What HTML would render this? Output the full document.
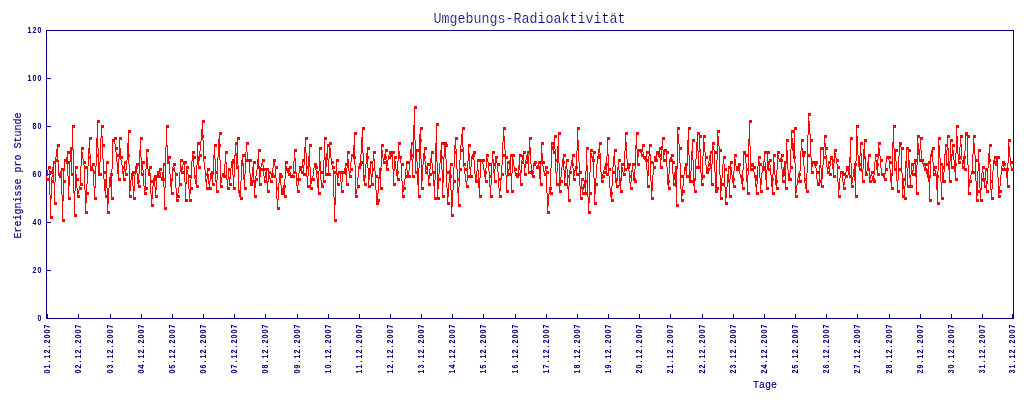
<!DOCTYPE html>
<html lang="de"><head><meta charset="utf-8">
<title>Umgebungs-Radioaktivität</title>
<style>
html,body{margin:0;padding:0;background:#fff;}
body{width:1024px;height:400px;overflow:hidden;position:relative;}
svg{position:absolute;left:0;top:0;display:block;}
text{fill:#000080;}
.t{font-family:"Liberation Mono","DejaVu Sans Mono",monospace;font-size:13.33px;stroke:#ffffff;stroke-width:0.175px;}
.s{font-family:"Liberation Mono","DejaVu Sans Mono",monospace;font-size:10px;stroke:#000080;stroke-width:0.15px;}
.n{font-family:"Liberation Sans","DejaVu Sans",sans-serif;font-size:8.8px;font-weight:bold;text-anchor:middle;stroke:#000080;stroke-width:0.05px;}
</style></head><body>
<svg width="1024" height="400" viewBox="0 0 1024 400">
<rect x="0" y="0" width="1024" height="400" fill="#ffffff"/>
<path shape-rendering="crispEdges" fill="#000080" d="M46 30h968v1h-968zM46 318h968v1h-968zM46 30h1v289h-1zM1013 30h1v289h-1zM46 318h5v1h-5zM46 270h5v1h-5zM46 222h5v1h-5zM46 174h5v1h-5zM46 126h5v1h-5zM46 78h5v1h-5zM46 30h5v1h-5zM47 314h1v5h-1zM78 314h1v5h-1zM110 314h1v5h-1zM141 314h1v5h-1zM172 314h1v5h-1zM203 314h1v5h-1zM234 314h1v5h-1zM265 314h1v5h-1zM297 314h1v5h-1zM328 314h1v5h-1zM359 314h1v5h-1zM390 314h1v5h-1zM421 314h1v5h-1zM452 314h1v5h-1zM483 314h1v5h-1zM515 314h1v5h-1zM546 314h1v5h-1zM577 314h1v5h-1zM608 314h1v5h-1zM639 314h1v5h-1zM670 314h1v5h-1zM702 314h1v5h-1zM733 314h1v5h-1zM764 314h1v5h-1zM795 314h1v5h-1zM826 314h1v5h-1zM857 314h1v5h-1zM889 314h1v5h-1zM920 314h1v5h-1zM951 314h1v5h-1zM982 314h1v5h-1zM1012 314h1v5h-1z"/>
<path shape-rendering="crispEdges" fill="#ff0000" d="M46 176h1v5h-1zM47 170h1v6h-1zM47 178h1v3h-1zM48 166h1v4h-1zM48 178h1v3h-1zM49 166h1v3h-1zM49 170h1v25h-1zM50 166h1v3h-1zM50 171h1v3h-1zM50 195h1v24h-1zM51 171h1v3h-1zM51 177h1v22h-1zM51 216h1v3h-1zM52 167h1v10h-1zM52 180h1v3h-1zM52 216h1v3h-1zM53 161h1v22h-1zM54 161h1v3h-1zM54 182h1v23h-1zM55 157h1v25h-1zM55 202h1v3h-1zM56 149h1v8h-1zM56 159h1v3h-1zM56 202h1v3h-1zM57 144h1v18h-1zM58 144h1v3h-1zM58 160h1v16h-1zM59 144h1v3h-1zM59 173h1v5h-1zM60 171h1v7h-1zM61 168h1v27h-1zM62 168h1v3h-1zM62 195h1v27h-1zM63 168h1v33h-1zM63 219h1v3h-1zM64 159h1v12h-1zM64 180h1v3h-1zM64 219h1v3h-1zM65 159h1v3h-1zM65 180h1v3h-1zM66 157h1v7h-1zM67 151h1v25h-1zM68 151h1v3h-1zM68 161h1v3h-1zM68 176h1v24h-1zM69 151h1v3h-1zM69 161h1v25h-1zM69 197h1v3h-1zM70 147h1v15h-1zM70 197h1v3h-1zM71 147h1v29h-1zM72 125h1v25h-1zM72 173h1v3h-1zM73 125h1v3h-1zM73 149h1v44h-1zM74 125h1v3h-1zM74 191h1v26h-1zM75 166h1v25h-1zM75 214h1v3h-1zM76 166h1v3h-1zM76 174h1v14h-1zM76 214h1v3h-1zM77 166h1v3h-1zM77 178h1v3h-1zM77 188h1v10h-1zM78 178h1v3h-1zM78 190h1v4h-1zM78 195h1v3h-1zM79 186h1v4h-1zM79 195h1v3h-1zM80 166h1v20h-1zM80 187h1v3h-1zM81 147h1v19h-1zM81 183h1v3h-1zM81 187h1v3h-1zM82 147h1v3h-1zM82 152h1v7h-1zM82 183h1v3h-1zM83 147h1v3h-1zM83 159h1v6h-1zM84 161h1v3h-1zM84 165h1v25h-1zM85 161h1v3h-1zM85 166h1v3h-1zM85 190h1v24h-1zM86 166h1v3h-1zM86 184h1v19h-1zM86 211h1v3h-1zM87 166h1v18h-1zM87 192h1v3h-1zM87 211h1v3h-1zM88 148h1v18h-1zM88 192h1v3h-1zM89 137h1v17h-1zM89 156h1v3h-1zM90 137h1v3h-1zM90 154h1v17h-1zM91 137h1v3h-1zM91 166h1v5h-1zM92 163h1v8h-1zM93 163h1v3h-1zM93 169h1v17h-1zM94 163h1v3h-1zM94 171h1v3h-1zM94 186h1v14h-1zM95 166h1v22h-1zM95 197h1v3h-1zM96 138h1v28h-1zM96 197h1v3h-1zM97 120h1v28h-1zM97 154h1v3h-1zM98 120h1v3h-1zM98 148h1v28h-1zM99 120h1v3h-1zM99 162h1v14h-1zM100 138h1v24h-1zM100 173h1v3h-1zM101 125h1v13h-1zM101 173h1v3h-1zM102 125h1v3h-1zM102 136h1v23h-1zM103 125h1v3h-1zM103 144h1v3h-1zM103 159h1v20h-1zM104 144h1v3h-1zM104 171h1v3h-1zM104 179h1v12h-1zM105 171h1v3h-1zM105 179h1v19h-1zM106 161h1v27h-1zM106 195h1v3h-1zM107 161h1v3h-1zM107 188h1v26h-1zM108 161h1v3h-1zM108 188h1v16h-1zM108 211h1v3h-1zM109 177h1v11h-1zM109 211h1v3h-1zM110 173h1v14h-1zM111 169h1v31h-1zM112 139h1v30h-1zM112 173h1v3h-1zM112 197h1v3h-1zM113 139h1v3h-1zM113 197h1v3h-1zM114 137h1v7h-1zM115 137h1v3h-1zM115 144h1v8h-1zM116 137h1v3h-1zM116 147h1v3h-1zM116 152h1v10h-1zM117 147h1v3h-1zM117 154h1v3h-1zM117 162h1v12h-1zM118 154h1v3h-1zM118 159h1v22h-1zM119 137h1v22h-1zM119 178h1v3h-1zM120 137h1v3h-1zM120 148h1v12h-1zM120 178h1v3h-1zM121 137h1v3h-1zM121 156h1v3h-1zM121 160h1v5h-1zM122 156h1v3h-1zM122 165h1v9h-1zM123 166h1v3h-1zM123 171h1v10h-1zM124 161h1v10h-1zM124 178h1v3h-1zM125 161h1v3h-1zM125 169h1v7h-1zM125 178h1v3h-1zM126 160h1v10h-1zM126 173h1v3h-1zM127 143h1v17h-1zM127 173h1v3h-1zM128 130h1v34h-1zM129 130h1v3h-1zM129 154h1v3h-1zM129 164h1v34h-1zM130 130h1v3h-1zM130 180h1v11h-1zM130 195h1v3h-1zM131 173h1v7h-1zM131 195h1v3h-1zM132 171h1v15h-1zM133 171h1v5h-1zM133 186h1v14h-1zM134 171h1v3h-1zM134 175h1v16h-1zM134 197h1v3h-1zM135 166h1v9h-1zM135 197h1v3h-1zM136 163h1v10h-1zM137 163h1v6h-1zM137 173h1v11h-1zM138 163h1v3h-1zM138 174h1v14h-1zM139 150h1v24h-1zM139 180h1v3h-1zM139 185h1v3h-1zM140 137h1v20h-1zM140 185h1v3h-1zM141 137h1v3h-1zM141 157h1v19h-1zM142 137h1v3h-1zM142 161h1v9h-1zM142 173h1v3h-1zM143 161h1v3h-1zM143 170h1v16h-1zM144 161h1v3h-1zM144 186h1v9h-1zM145 169h1v22h-1zM145 192h1v3h-1zM146 149h1v20h-1zM146 187h1v3h-1zM146 192h1v3h-1zM147 149h1v3h-1zM147 157h1v12h-1zM147 187h1v3h-1zM148 149h1v3h-1zM148 169h1v7h-1zM149 166h1v10h-1zM150 166h1v3h-1zM150 173h1v21h-1zM151 166h1v3h-1zM151 180h1v3h-1zM151 194h1v13h-1zM152 180h1v3h-1zM152 186h1v13h-1zM152 204h1v3h-1zM153 178h1v8h-1zM153 204h1v3h-1zM154 175h1v12h-1zM155 175h1v6h-1zM155 187h1v11h-1zM156 175h1v15h-1zM156 195h1v3h-1zM157 171h1v7h-1zM157 195h1v3h-1zM158 171h1v7h-1zM159 168h1v6h-1zM159 175h1v3h-1zM160 168h1v3h-1zM160 172h1v6h-1zM161 168h1v3h-1zM161 177h1v4h-1zM162 172h1v9h-1zM163 163h1v24h-1zM164 163h1v3h-1zM164 178h1v3h-1zM164 187h1v23h-1zM165 147h1v41h-1zM165 207h1v3h-1zM166 125h1v22h-1zM166 207h1v3h-1zM167 125h1v3h-1zM167 145h1v19h-1zM168 125h1v3h-1zM168 156h1v8h-1zM169 156h1v3h-1zM169 161h1v13h-1zM170 156h1v3h-1zM170 174h1v13h-1zM171 178h1v17h-1zM172 167h1v14h-1zM172 192h1v3h-1zM173 163h1v4h-1zM173 168h1v3h-1zM173 192h1v3h-1zM174 163h1v3h-1zM174 167h1v5h-1zM175 163h1v3h-1zM175 172h1v16h-1zM176 173h1v3h-1zM176 188h1v14h-1zM177 173h1v3h-1zM177 193h1v5h-1zM177 199h1v3h-1zM178 187h1v6h-1zM178 195h1v3h-1zM178 199h1v3h-1zM179 172h1v15h-1zM179 195h1v3h-1zM180 159h1v13h-1zM180 183h1v3h-1zM181 159h1v3h-1zM181 167h1v7h-1zM181 183h1v3h-1zM182 159h1v3h-1zM182 165h1v5h-1zM182 171h1v3h-1zM183 161h1v4h-1zM183 171h1v3h-1zM184 161h1v21h-1zM185 161h1v3h-1zM185 182h1v20h-1zM186 161h1v3h-1zM186 166h1v18h-1zM186 199h1v3h-1zM187 166h1v3h-1zM187 170h1v4h-1zM187 199h1v3h-1zM188 166h1v3h-1zM188 174h1v15h-1zM189 175h1v3h-1zM189 189h1v13h-1zM190 175h1v3h-1zM190 179h1v15h-1zM190 199h1v3h-1zM191 161h1v18h-1zM191 187h1v3h-1zM191 199h1v3h-1zM192 151h1v10h-1zM192 187h1v3h-1zM193 151h1v3h-1zM193 155h1v12h-1zM194 151h1v3h-1zM194 156h1v3h-1zM194 167h1v12h-1zM195 156h1v3h-1zM195 175h1v3h-1zM195 179h1v5h-1zM196 165h1v23h-1zM197 142h1v23h-1zM197 185h1v3h-1zM198 142h1v3h-1zM198 156h1v13h-1zM198 185h1v3h-1zM199 142h1v3h-1zM199 151h1v10h-1zM199 166h1v3h-1zM200 141h1v10h-1zM200 154h1v3h-1zM200 166h1v3h-1zM201 129h1v12h-1zM201 154h1v3h-1zM202 120h1v20h-1zM203 120h1v3h-1zM203 135h1v3h-1zM203 140h1v22h-1zM204 120h1v3h-1zM204 156h1v3h-1zM204 162h1v8h-1zM205 156h1v3h-1zM205 170h1v12h-1zM206 173h1v3h-1zM206 179h1v11h-1zM207 168h1v11h-1zM207 187h1v3h-1zM208 168h1v3h-1zM208 174h1v10h-1zM208 187h1v3h-1zM209 168h1v3h-1zM209 181h1v9h-1zM210 173h1v8h-1zM210 187h1v3h-1zM211 171h1v8h-1zM211 187h1v3h-1zM212 171h1v15h-1zM213 155h1v20h-1zM213 183h1v3h-1zM214 144h1v15h-1zM214 183h1v3h-1zM215 144h1v3h-1zM215 159h1v23h-1zM216 144h1v3h-1zM216 171h1v3h-1zM216 180h1v13h-1zM217 157h1v23h-1zM217 190h1v3h-1zM218 139h1v18h-1zM218 190h1v3h-1zM219 132h1v28h-1zM220 132h1v3h-1zM220 144h1v3h-1zM220 160h1v28h-1zM221 132h1v3h-1zM221 177h1v6h-1zM221 185h1v3h-1zM222 173h1v4h-1zM222 185h1v3h-1zM223 173h1v5h-1zM224 164h1v14h-1zM225 151h1v13h-1zM225 175h1v3h-1zM226 151h1v3h-1zM226 162h1v18h-1zM227 151h1v3h-1zM227 179h1v11h-1zM228 168h1v11h-1zM228 187h1v3h-1zM229 168h1v3h-1zM229 177h1v9h-1zM229 187h1v3h-1zM230 168h1v11h-1zM230 183h1v3h-1zM231 161h1v7h-1zM231 183h1v3h-1zM232 159h1v16h-1zM233 159h1v5h-1zM233 175h1v15h-1zM234 155h1v22h-1zM234 187h1v3h-1zM235 142h1v14h-1zM235 187h1v3h-1zM236 142h1v3h-1zM236 153h1v16h-1zM237 137h1v28h-1zM237 166h1v3h-1zM238 137h1v3h-1zM238 165h1v28h-1zM239 137h1v3h-1zM239 190h1v7h-1zM240 181h1v19h-1zM241 160h1v21h-1zM241 197h1v3h-1zM242 154h1v12h-1zM242 197h1v3h-1zM243 154h1v3h-1zM243 163h1v17h-1zM244 154h1v3h-1zM244 174h1v16h-1zM245 152h1v22h-1zM245 187h1v3h-1zM246 142h1v10h-1zM246 159h1v3h-1zM246 187h1v3h-1zM247 142h1v3h-1zM247 152h1v10h-1zM248 142h1v3h-1zM248 159h1v3h-1zM249 159h1v14h-1zM250 159h1v3h-1zM250 173h1v13h-1zM251 159h1v3h-1zM251 177h1v9h-1zM252 167h1v10h-1zM252 180h1v6h-1zM253 161h1v22h-1zM254 161h1v3h-1zM254 180h1v18h-1zM255 161h1v3h-1zM255 176h1v12h-1zM255 195h1v3h-1zM256 170h1v6h-1zM256 178h1v3h-1zM256 195h1v3h-1zM257 159h1v11h-1zM257 178h1v3h-1zM258 149h1v20h-1zM259 149h1v3h-1zM259 166h1v20h-1zM260 149h1v3h-1zM260 167h1v10h-1zM260 183h1v3h-1zM261 163h1v4h-1zM261 168h1v3h-1zM261 183h1v3h-1zM262 159h1v6h-1zM262 168h1v3h-1zM263 159h1v3h-1zM263 165h1v11h-1zM264 159h1v3h-1zM264 168h1v3h-1zM264 176h1v7h-1zM265 168h1v3h-1zM265 172h1v6h-1zM265 180h1v3h-1zM266 168h1v15h-1zM267 168h1v3h-1zM267 181h1v12h-1zM268 168h1v14h-1zM268 190h1v3h-1zM269 171h1v3h-1zM269 175h1v4h-1zM269 190h1v3h-1zM270 171h1v3h-1zM270 178h1v5h-1zM271 173h1v5h-1zM271 180h1v3h-1zM272 168h1v10h-1zM272 180h1v3h-1zM273 159h1v9h-1zM273 173h1v5h-1zM274 159h1v7h-1zM274 175h1v3h-1zM275 159h1v3h-1zM275 166h1v12h-1zM276 166h1v3h-1zM276 178h1v21h-1zM277 166h1v3h-1zM277 187h1v3h-1zM277 199h1v11h-1zM278 183h1v17h-1zM278 207h1v3h-1zM279 173h1v10h-1zM279 207h1v3h-1zM280 173h1v12h-1zM281 173h1v5h-1zM281 185h1v10h-1zM282 175h1v3h-1zM282 188h1v7h-1zM283 185h1v10h-1zM284 179h1v19h-1zM285 161h1v18h-1zM285 185h1v3h-1zM285 195h1v3h-1zM286 161h1v3h-1zM286 166h1v5h-1zM286 195h1v3h-1zM287 161h1v3h-1zM287 168h1v5h-1zM288 168h1v8h-1zM289 166h1v6h-1zM289 173h1v3h-1zM290 166h1v3h-1zM290 172h1v6h-1zM291 166h1v3h-1zM291 175h1v3h-1zM292 174h1v4h-1zM293 161h1v13h-1zM293 175h1v3h-1zM294 149h1v12h-1zM294 171h1v3h-1zM294 175h1v3h-1zM295 149h1v3h-1zM295 158h1v16h-1zM296 149h1v3h-1zM296 172h1v14h-1zM297 178h1v3h-1zM297 185h1v8h-1zM298 173h1v12h-1zM298 190h1v3h-1zM299 166h1v7h-1zM299 178h1v3h-1zM299 190h1v3h-1zM300 166h1v5h-1zM300 178h1v3h-1zM301 166h1v8h-1zM302 159h1v9h-1zM302 171h1v3h-1zM303 159h1v3h-1zM303 165h1v11h-1zM304 147h1v18h-1zM304 173h1v3h-1zM305 137h1v16h-1zM305 173h1v3h-1zM306 137h1v3h-1zM306 153h1v24h-1zM307 137h1v3h-1zM307 166h1v3h-1zM307 176h1v12h-1zM308 156h1v20h-1zM308 185h1v3h-1zM309 144h1v23h-1zM309 185h1v3h-1zM310 144h1v3h-1zM310 167h1v23h-1zM311 144h1v3h-1zM311 178h1v6h-1zM311 187h1v3h-1zM312 176h1v5h-1zM312 187h1v3h-1zM313 168h1v8h-1zM313 178h1v3h-1zM314 163h1v5h-1zM314 178h1v3h-1zM315 163h1v7h-1zM316 163h1v6h-1zM316 170h1v8h-1zM317 166h1v3h-1zM317 171h1v3h-1zM317 178h1v10h-1zM318 171h1v24h-1zM319 147h1v24h-1zM319 192h1v3h-1zM320 147h1v3h-1zM320 161h1v19h-1zM320 192h1v3h-1zM321 147h1v3h-1zM321 171h1v3h-1zM321 180h1v8h-1zM322 171h1v3h-1zM322 183h1v5h-1zM323 160h1v23h-1zM323 185h1v3h-1zM324 137h1v23h-1zM324 180h1v3h-1zM325 137h1v3h-1zM325 157h1v19h-1zM325 180h1v3h-1zM326 137h1v3h-1zM326 153h1v14h-1zM326 173h1v3h-1zM327 144h1v16h-1zM327 173h1v3h-1zM328 144h1v3h-1zM328 159h1v17h-1zM329 142h1v17h-1zM329 173h1v3h-1zM330 142h1v3h-1zM330 148h1v10h-1zM330 173h1v3h-1zM331 142h1v3h-1zM331 158h1v7h-1zM332 161h1v3h-1zM332 165h1v5h-1zM333 161h1v3h-1zM333 166h1v3h-1zM333 170h1v27h-1zM334 166h1v3h-1zM334 171h1v3h-1zM334 197h1v25h-1zM335 171h1v3h-1zM335 175h1v30h-1zM335 219h1v3h-1zM336 159h1v16h-1zM336 219h1v3h-1zM337 159h1v3h-1zM337 173h1v13h-1zM338 159h1v3h-1zM338 171h1v7h-1zM338 183h1v3h-1zM339 171h1v3h-1zM339 183h1v3h-1zM340 171h1v11h-1zM341 171h1v3h-1zM341 182h1v11h-1zM342 171h1v11h-1zM342 190h1v3h-1zM343 171h1v3h-1zM343 190h1v3h-1zM344 168h1v6h-1zM345 163h1v12h-1zM346 163h1v3h-1zM346 168h1v18h-1zM347 151h1v17h-1zM347 183h1v3h-1zM348 151h1v3h-1zM348 159h1v12h-1zM348 183h1v3h-1zM349 151h1v3h-1zM349 171h1v7h-1zM350 162h1v11h-1zM350 175h1v3h-1zM351 154h1v8h-1zM351 168h1v3h-1zM351 175h1v3h-1zM352 154h1v3h-1zM352 168h1v3h-1zM353 145h1v14h-1zM354 132h1v33h-1zM355 132h1v3h-1zM355 156h1v3h-1zM355 165h1v33h-1zM356 132h1v3h-1zM356 189h1v5h-1zM356 195h1v3h-1zM357 177h1v12h-1zM357 195h1v3h-1zM358 166h1v11h-1zM358 185h1v3h-1zM359 163h1v6h-1zM359 185h1v3h-1zM360 154h1v15h-1zM361 137h1v17h-1zM361 161h1v5h-1zM362 127h1v26h-1zM362 161h1v3h-1zM363 127h1v3h-1zM363 153h1v28h-1zM364 127h1v3h-1zM364 175h1v11h-1zM365 164h1v14h-1zM365 183h1v3h-1zM366 153h1v11h-1zM366 183h1v3h-1zM367 147h1v21h-1zM368 147h1v3h-1zM368 156h1v3h-1zM368 168h1v20h-1zM369 147h1v3h-1zM369 168h1v12h-1zM369 185h1v3h-1zM370 161h1v13h-1zM370 185h1v3h-1zM371 161h1v3h-1zM371 174h1v12h-1zM372 161h1v16h-1zM372 183h1v3h-1zM373 151h1v10h-1zM373 168h1v3h-1zM373 183h1v3h-1zM374 151h1v3h-1zM374 159h1v12h-1zM375 151h1v3h-1zM375 171h1v19h-1zM376 175h1v3h-1zM376 190h1v15h-1zM377 175h1v3h-1zM377 193h1v12h-1zM378 177h1v16h-1zM378 199h1v6h-1zM379 168h1v11h-1zM379 199h1v3h-1zM380 167h1v23h-1zM381 144h1v23h-1zM381 168h1v3h-1zM381 187h1v3h-1zM382 144h1v3h-1zM382 150h1v8h-1zM382 187h1v3h-1zM383 144h1v3h-1zM383 158h1v6h-1zM384 154h1v6h-1zM384 161h1v3h-1zM385 149h1v11h-1zM385 161h1v3h-1zM386 149h1v3h-1zM386 156h1v3h-1zM386 160h1v11h-1zM387 149h1v3h-1zM387 160h1v6h-1zM387 168h1v3h-1zM388 155h1v5h-1zM388 168h1v3h-1zM389 151h1v4h-1zM389 156h1v3h-1zM390 151h1v8h-1zM391 151h1v6h-1zM392 151h1v18h-1zM393 151h1v3h-1zM393 169h1v17h-1zM394 151h1v3h-1zM394 156h1v15h-1zM394 183h1v3h-1zM395 156h1v3h-1zM395 161h1v8h-1zM395 183h1v3h-1zM396 156h1v3h-1zM396 169h1v7h-1zM397 161h1v20h-1zM398 142h1v19h-1zM398 171h1v3h-1zM398 178h1v3h-1zM399 142h1v3h-1zM399 151h1v8h-1zM399 178h1v3h-1zM400 142h1v3h-1zM400 156h1v7h-1zM401 156h1v3h-1zM401 163h1v18h-1zM402 163h1v3h-1zM402 181h1v17h-1zM403 163h1v3h-1zM403 185h1v7h-1zM403 195h1v3h-1zM404 179h1v6h-1zM404 187h1v3h-1zM404 195h1v3h-1zM405 169h1v10h-1zM405 187h1v3h-1zM406 161h1v9h-1zM406 175h1v3h-1zM407 161h1v3h-1zM407 170h1v8h-1zM408 161h1v3h-1zM408 171h1v7h-1zM409 161h1v10h-1zM409 175h1v3h-1zM410 149h1v12h-1zM410 175h1v3h-1zM411 142h1v18h-1zM412 142h1v3h-1zM412 154h1v3h-1zM412 159h1v19h-1zM413 125h1v34h-1zM413 175h1v3h-1zM414 106h1v34h-1zM414 175h1v3h-1zM415 106h1v3h-1zM415 140h1v34h-1zM416 106h1v3h-1zM416 149h1v13h-1zM416 171h1v3h-1zM417 149h1v3h-1zM417 162h1v23h-1zM418 149h1v3h-1zM418 168h1v30h-1zM419 134h1v34h-1zM419 195h1v3h-1zM420 127h1v32h-1zM420 195h1v3h-1zM421 127h1v3h-1zM421 139h1v3h-1zM421 159h1v31h-1zM422 127h1v3h-1zM422 165h1v16h-1zM422 187h1v3h-1zM423 153h1v12h-1zM423 187h1v3h-1zM424 147h1v14h-1zM425 147h1v3h-1zM425 156h1v3h-1zM425 161h1v13h-1zM426 147h1v3h-1zM426 166h1v4h-1zM426 171h1v3h-1zM427 163h1v12h-1zM428 163h1v3h-1zM428 175h1v11h-1zM429 163h1v3h-1zM429 169h1v10h-1zM429 183h1v3h-1zM430 158h1v11h-1zM430 173h1v3h-1zM430 183h1v3h-1zM431 151h1v12h-1zM431 173h1v3h-1zM432 151h1v3h-1zM432 163h1v11h-1zM433 151h1v3h-1zM433 171h1v15h-1zM434 171h1v3h-1zM434 180h1v20h-1zM435 143h1v37h-1zM435 197h1v3h-1zM436 123h1v39h-1zM436 197h1v3h-1zM437 123h1v3h-1zM437 162h1v38h-1zM438 123h1v3h-1zM438 174h1v15h-1zM438 197h1v3h-1zM439 163h1v11h-1zM439 178h1v3h-1zM439 197h1v3h-1zM440 150h1v13h-1zM440 178h1v3h-1zM441 142h1v28h-1zM442 142h1v3h-1zM442 156h1v3h-1zM442 170h1v28h-1zM443 142h1v3h-1zM443 157h1v26h-1zM443 195h1v3h-1zM444 142h1v15h-1zM444 195h1v3h-1zM445 142h1v17h-1zM446 142h1v5h-1zM446 159h1v29h-1zM447 144h1v3h-1zM447 171h1v3h-1zM447 188h1v17h-1zM448 171h1v3h-1zM448 183h1v14h-1zM448 202h1v3h-1zM449 170h1v13h-1zM449 202h1v3h-1zM450 163h1v27h-1zM451 163h1v3h-1zM451 175h1v3h-1zM451 190h1v27h-1zM452 163h1v3h-1zM452 190h1v17h-1zM452 214h1v3h-1zM453 167h1v23h-1zM453 214h1v3h-1zM454 145h1v22h-1zM454 180h1v3h-1zM455 137h1v12h-1zM455 151h1v3h-1zM455 180h1v3h-1zM456 137h1v3h-1zM456 149h1v20h-1zM457 137h1v3h-1zM457 169h1v24h-1zM458 178h1v3h-1zM458 187h1v20h-1zM459 160h1v27h-1zM459 204h1v3h-1zM460 145h1v15h-1zM460 168h1v3h-1zM460 204h1v3h-1zM461 134h1v11h-1zM461 149h1v3h-1zM461 168h1v3h-1zM462 127h1v20h-1zM462 149h1v3h-1zM463 127h1v3h-1zM463 147h1v20h-1zM464 127h1v3h-1zM464 163h1v3h-1zM464 167h1v7h-1zM465 163h1v3h-1zM465 168h1v3h-1zM465 174h1v8h-1zM466 168h1v3h-1zM466 181h1v7h-1zM467 161h1v20h-1zM467 185h1v3h-1zM468 144h1v17h-1zM468 175h1v3h-1zM468 185h1v3h-1zM469 144h1v3h-1zM469 153h1v16h-1zM469 175h1v3h-1zM470 144h1v3h-1zM470 167h1v11h-1zM471 156h1v11h-1zM471 175h1v3h-1zM472 154h1v5h-1zM472 175h1v3h-1zM473 151h1v9h-1zM474 151h1v6h-1zM474 160h1v14h-1zM475 151h1v3h-1zM475 174h1v9h-1zM476 171h1v12h-1zM477 159h1v12h-1zM477 180h1v3h-1zM478 159h1v3h-1zM478 170h1v18h-1zM479 159h1v3h-1zM479 178h1v20h-1zM480 159h1v19h-1zM480 195h1v3h-1zM481 159h1v3h-1zM481 195h1v3h-1zM482 159h1v5h-1zM483 159h1v3h-1zM483 164h1v6h-1zM484 159h1v3h-1zM484 170h1v7h-1zM485 168h1v15h-1zM486 154h1v14h-1zM486 171h1v3h-1zM486 180h1v3h-1zM487 154h1v3h-1zM487 158h1v4h-1zM487 180h1v3h-1zM488 154h1v3h-1zM488 162h1v9h-1zM489 163h1v3h-1zM489 171h1v16h-1zM490 163h1v3h-1zM490 175h1v3h-1zM490 185h1v13h-1zM491 163h1v22h-1zM491 195h1v3h-1zM492 151h1v12h-1zM492 195h1v3h-1zM493 151h1v3h-1zM493 159h1v14h-1zM494 151h1v3h-1zM494 163h1v3h-1zM494 169h1v14h-1zM495 156h1v13h-1zM495 180h1v3h-1zM496 156h1v7h-1zM496 180h1v3h-1zM497 156h1v3h-1zM497 163h1v9h-1zM498 163h1v3h-1zM498 172h1v16h-1zM499 163h1v3h-1zM499 178h1v3h-1zM499 188h1v10h-1zM500 178h1v13h-1zM500 195h1v3h-1zM501 165h1v15h-1zM501 195h1v3h-1zM502 142h1v23h-1zM502 173h1v3h-1zM503 127h1v15h-1zM503 154h1v3h-1zM503 173h1v3h-1zM504 127h1v3h-1zM504 136h1v14h-1zM504 154h1v3h-1zM505 127h1v3h-1zM505 150h1v25h-1zM506 156h1v3h-1zM506 175h1v18h-1zM507 156h1v3h-1zM507 161h1v16h-1zM507 190h1v3h-1zM508 161h1v3h-1zM508 169h1v7h-1zM508 190h1v3h-1zM509 160h1v10h-1zM509 173h1v3h-1zM510 154h1v22h-1zM511 154h1v3h-1zM511 173h1v20h-1zM512 154h1v19h-1zM512 190h1v3h-1zM513 154h1v3h-1zM513 159h1v7h-1zM513 190h1v3h-1zM514 154h1v3h-1zM514 166h1v6h-1zM515 168h1v3h-1zM515 172h1v4h-1zM516 168h1v3h-1zM516 173h1v5h-1zM517 173h1v5h-1zM518 165h1v13h-1zM519 154h1v16h-1zM519 173h1v3h-1zM520 154h1v3h-1zM520 170h1v16h-1zM521 154h1v3h-1zM521 160h1v13h-1zM521 183h1v3h-1zM522 155h1v5h-1zM522 161h1v3h-1zM522 183h1v3h-1zM523 151h1v13h-1zM524 151h1v3h-1zM524 164h1v12h-1zM525 151h1v3h-1zM525 160h1v8h-1zM525 173h1v3h-1zM526 155h1v5h-1zM526 161h1v3h-1zM526 173h1v3h-1zM527 151h1v13h-1zM528 151h1v3h-1zM528 155h1v19h-1zM529 137h1v18h-1zM529 171h1v3h-1zM530 137h1v3h-1zM530 147h1v17h-1zM530 171h1v3h-1zM531 137h1v3h-1zM531 164h1v11h-1zM532 170h1v8h-1zM533 163h1v7h-1zM533 171h1v3h-1zM533 175h1v3h-1zM534 161h1v5h-1zM534 175h1v3h-1zM535 161h1v5h-1zM536 161h1v3h-1zM536 166h1v3h-1zM537 165h1v4h-1zM538 161h1v8h-1zM539 161h1v3h-1zM539 166h1v13h-1zM540 161h1v25h-1zM541 142h1v22h-1zM541 183h1v3h-1zM542 142h1v3h-1zM542 153h1v13h-1zM542 183h1v3h-1zM543 142h1v3h-1zM543 161h1v3h-1zM543 166h1v6h-1zM544 161h1v3h-1zM544 171h1v5h-1zM545 166h1v5h-1zM545 173h1v3h-1zM546 166h1v3h-1zM546 170h1v23h-1zM547 166h1v3h-1zM547 171h1v3h-1zM547 193h1v21h-1zM548 171h1v3h-1zM548 194h1v12h-1zM548 211h1v3h-1zM549 187h1v7h-1zM549 211h1v3h-1zM550 168h1v27h-1zM551 142h1v26h-1zM551 187h1v3h-1zM551 192h1v3h-1zM552 142h1v3h-1zM552 146h1v4h-1zM552 192h1v3h-1zM553 142h1v12h-1zM554 135h1v14h-1zM554 151h1v3h-1zM555 135h1v3h-1zM555 149h1v24h-1zM556 135h1v3h-1zM556 159h1v3h-1zM556 172h1v14h-1zM557 146h1v26h-1zM557 183h1v3h-1zM558 132h1v31h-1zM558 183h1v3h-1zM559 132h1v3h-1zM559 163h1v30h-1zM560 132h1v3h-1zM560 177h1v9h-1zM560 190h1v3h-1zM561 167h1v10h-1zM561 180h1v3h-1zM561 190h1v3h-1zM562 159h1v8h-1zM562 180h1v3h-1zM563 154h1v16h-1zM564 154h1v3h-1zM564 161h1v3h-1zM564 170h1v16h-1zM565 154h1v3h-1zM565 166h1v12h-1zM565 183h1v3h-1zM566 159h1v10h-1zM566 183h1v3h-1zM567 159h1v3h-1zM567 169h1v20h-1zM568 159h1v3h-1zM568 175h1v3h-1zM568 186h1v16h-1zM569 170h1v16h-1zM569 199h1v3h-1zM570 166h1v4h-1zM570 171h1v3h-1zM570 199h1v3h-1zM571 160h1v6h-1zM571 171h1v3h-1zM572 154h1v14h-1zM573 154h1v3h-1zM573 163h1v3h-1zM573 168h1v13h-1zM574 154h1v3h-1zM574 170h1v6h-1zM574 178h1v3h-1zM575 166h1v5h-1zM575 178h1v3h-1zM576 151h1v25h-1zM577 127h1v24h-1zM577 166h1v3h-1zM577 173h1v3h-1zM578 127h1v3h-1zM578 140h1v22h-1zM578 173h1v3h-1zM579 127h1v3h-1zM579 162h1v24h-1zM580 171h1v3h-1zM580 186h1v14h-1zM581 171h1v3h-1zM581 178h1v11h-1zM581 197h1v3h-1zM582 178h1v3h-1zM582 187h1v8h-1zM582 197h1v3h-1zM583 178h1v3h-1zM583 184h1v6h-1zM583 192h1v3h-1zM584 180h1v8h-1zM584 192h1v3h-1zM585 171h1v24h-1zM586 147h1v24h-1zM586 180h1v3h-1zM586 192h1v3h-1zM587 147h1v3h-1zM587 165h1v32h-1zM588 147h1v3h-1zM588 197h1v17h-1zM589 172h1v31h-1zM589 211h1v3h-1zM590 149h1v23h-1zM590 192h1v3h-1zM590 211h1v3h-1zM591 149h1v3h-1zM591 153h1v5h-1zM591 192h1v3h-1zM592 149h1v3h-1zM592 156h1v6h-1zM593 151h1v27h-1zM594 151h1v3h-1zM594 159h1v3h-1zM594 178h1v27h-1zM595 151h1v3h-1zM595 178h1v16h-1zM595 202h1v3h-1zM596 164h1v14h-1zM596 183h1v3h-1zM596 202h1v3h-1zM597 156h1v8h-1zM597 183h1v3h-1zM598 149h1v10h-1zM599 142h1v11h-1zM599 154h1v5h-1zM600 142h1v3h-1zM600 153h1v19h-1zM601 142h1v3h-1zM601 172h1v11h-1zM602 174h1v5h-1zM602 180h1v3h-1zM603 170h1v4h-1zM603 175h1v3h-1zM603 180h1v3h-1zM604 166h1v4h-1zM604 171h1v3h-1zM604 175h1v3h-1zM605 163h1v7h-1zM605 171h1v3h-1zM606 156h1v20h-1zM607 137h1v19h-1zM607 163h1v3h-1zM607 173h1v3h-1zM608 137h1v3h-1zM608 154h1v22h-1zM609 137h1v3h-1zM609 168h1v3h-1zM609 176h1v12h-1zM610 168h1v3h-1zM610 188h1v9h-1zM611 186h1v16h-1zM612 167h1v19h-1zM612 192h1v3h-1zM612 199h1v3h-1zM613 156h1v11h-1zM613 171h1v3h-1zM613 199h1v3h-1zM614 149h1v16h-1zM614 171h1v3h-1zM615 149h1v3h-1zM615 165h1v18h-1zM616 149h1v3h-1zM616 178h1v10h-1zM617 167h1v14h-1zM617 185h1v3h-1zM618 159h1v11h-1zM618 185h1v3h-1zM619 159h1v3h-1zM619 170h1v16h-1zM620 159h1v3h-1zM620 178h1v15h-1zM621 163h1v18h-1zM621 190h1v3h-1zM622 163h1v3h-1zM622 167h1v5h-1zM622 190h1v3h-1zM623 163h1v3h-1zM623 172h1v4h-1zM624 151h1v21h-1zM624 173h1v3h-1zM625 132h1v19h-1zM625 168h1v3h-1zM625 173h1v3h-1zM626 132h1v3h-1zM626 142h1v17h-1zM626 168h1v3h-1zM627 132h1v3h-1zM627 159h1v10h-1zM628 163h1v8h-1zM629 163h1v6h-1zM629 171h1v12h-1zM630 163h1v3h-1zM630 175h1v3h-1zM630 182h1v8h-1zM631 170h1v12h-1zM631 187h1v3h-1zM632 163h1v9h-1zM632 187h1v3h-1zM633 163h1v3h-1zM633 172h1v9h-1zM634 163h1v3h-1zM634 169h1v14h-1zM635 145h1v24h-1zM635 178h1v5h-1zM636 132h1v17h-1zM636 180h1v3h-1zM637 132h1v3h-1zM637 149h1v17h-1zM638 132h1v3h-1zM638 149h1v8h-1zM638 163h1v3h-1zM639 149h1v3h-1zM639 163h1v3h-1zM640 149h1v4h-1zM641 149h1v8h-1zM642 144h1v8h-1zM642 154h1v3h-1zM643 144h1v3h-1zM643 152h1v7h-1zM644 144h1v3h-1zM644 156h1v4h-1zM645 156h1v6h-1zM646 151h1v19h-1zM647 151h1v3h-1zM647 159h1v3h-1zM647 170h1v18h-1zM648 151h1v3h-1zM648 156h1v20h-1zM648 185h1v3h-1zM649 144h1v12h-1zM649 185h1v3h-1zM650 144h1v3h-1zM650 154h1v27h-1zM651 144h1v3h-1zM651 161h1v3h-1zM651 181h1v19h-1zM652 161h1v3h-1zM652 175h1v16h-1zM652 197h1v3h-1zM653 162h1v13h-1zM653 197h1v3h-1zM654 156h1v6h-1zM654 166h1v3h-1zM655 156h1v6h-1zM655 166h1v3h-1zM656 151h1v11h-1zM657 151h1v4h-1zM657 159h1v3h-1zM658 151h1v6h-1zM659 147h1v11h-1zM660 147h1v3h-1zM660 154h1v3h-1zM660 158h1v11h-1zM661 146h1v14h-1zM661 166h1v3h-1zM662 137h1v13h-1zM662 166h1v3h-1zM663 137h1v3h-1zM663 150h1v12h-1zM664 137h1v3h-1zM664 149h1v6h-1zM664 159h1v3h-1zM665 149h1v3h-1zM665 159h1v3h-1zM666 149h1v18h-1zM667 151h1v3h-1zM667 167h1v18h-1zM668 151h1v3h-1zM668 174h1v16h-1zM669 159h1v15h-1zM669 180h1v3h-1zM669 187h1v3h-1zM670 157h1v5h-1zM670 187h1v3h-1zM671 154h1v8h-1zM672 154h1v3h-1zM672 159h1v15h-1zM673 154h1v3h-1zM673 161h1v3h-1zM673 174h1v12h-1zM674 161h1v3h-1zM674 172h1v8h-1zM674 183h1v3h-1zM675 166h1v21h-1zM676 166h1v41h-1zM677 127h1v42h-1zM677 204h1v3h-1zM678 127h1v3h-1zM678 134h1v10h-1zM678 204h1v3h-1zM679 127h1v3h-1zM679 144h1v19h-1zM680 147h1v3h-1zM680 163h1v26h-1zM681 147h1v3h-1zM681 175h1v3h-1zM681 189h1v13h-1zM682 175h1v3h-1zM682 186h1v10h-1zM682 199h1v3h-1zM683 175h1v11h-1zM683 190h1v3h-1zM683 199h1v3h-1zM684 167h1v8h-1zM684 190h1v3h-1zM685 163h1v8h-1zM686 163h1v15h-1zM687 140h1v26h-1zM687 175h1v3h-1zM688 127h1v28h-1zM688 175h1v3h-1zM689 127h1v3h-1zM689 155h1v28h-1zM690 127h1v3h-1zM690 171h1v12h-1zM691 151h1v20h-1zM691 180h1v3h-1zM692 139h1v21h-1zM692 180h1v3h-1zM693 139h1v3h-1zM693 160h1v26h-1zM694 139h1v3h-1zM694 178h1v15h-1zM695 159h1v22h-1zM695 190h1v3h-1zM696 142h1v17h-1zM696 166h1v3h-1zM696 190h1v3h-1zM697 132h1v19h-1zM697 166h1v3h-1zM698 132h1v3h-1zM698 151h1v18h-1zM699 132h1v20h-1zM699 166h1v3h-1zM700 135h1v3h-1zM700 149h1v24h-1zM701 135h1v3h-1zM701 173h1v13h-1zM702 156h1v24h-1zM702 183h1v3h-1zM703 135h1v21h-1zM703 175h1v3h-1zM703 183h1v3h-1zM704 135h1v3h-1zM704 142h1v10h-1zM704 175h1v3h-1zM705 135h1v3h-1zM705 152h1v13h-1zM706 156h1v3h-1zM706 165h1v9h-1zM707 156h1v3h-1zM707 167h1v7h-1zM708 161h1v6h-1zM708 168h1v6h-1zM709 155h1v6h-1zM709 163h1v3h-1zM709 168h1v3h-1zM710 151h1v18h-1zM711 151h1v3h-1zM711 164h1v22h-1zM712 142h1v22h-1zM712 183h1v3h-1zM713 142h1v3h-1zM713 146h1v4h-1zM713 183h1v3h-1zM714 142h1v3h-1zM714 150h1v22h-1zM715 151h1v3h-1zM715 172h1v21h-1zM716 151h1v3h-1zM716 160h1v33h-1zM717 130h1v30h-1zM717 187h1v6h-1zM718 130h1v3h-1zM718 136h1v10h-1zM718 187h1v3h-1zM719 130h1v3h-1zM719 146h1v29h-1zM720 149h1v3h-1zM720 175h1v25h-1zM721 149h1v3h-1zM721 178h1v13h-1zM721 197h1v3h-1zM722 164h1v14h-1zM722 183h1v3h-1zM722 197h1v3h-1zM723 156h1v8h-1zM723 183h1v3h-1zM724 156h1v3h-1zM724 164h1v23h-1zM725 156h1v3h-1zM725 168h1v3h-1zM725 187h1v18h-1zM726 168h1v3h-1zM726 187h1v11h-1zM726 202h1v3h-1zM727 174h1v13h-1zM727 202h1v3h-1zM728 166h1v17h-1zM729 166h1v3h-1zM729 179h1v19h-1zM730 161h1v18h-1zM730 195h1v3h-1zM731 161h1v3h-1zM731 167h1v8h-1zM731 195h1v3h-1zM732 161h1v3h-1zM732 175h1v8h-1zM733 171h1v17h-1zM734 154h1v17h-1zM734 178h1v3h-1zM734 185h1v3h-1zM735 154h1v3h-1zM735 159h1v7h-1zM735 185h1v3h-1zM736 154h1v3h-1zM736 166h1v5h-1zM737 166h1v5h-1zM738 163h1v8h-1zM739 163h1v11h-1zM740 163h1v3h-1zM740 174h1v4h-1zM741 175h1v9h-1zM742 170h1v20h-1zM743 151h1v19h-1zM743 178h1v3h-1zM743 187h1v3h-1zM744 151h1v4h-1zM744 187h1v3h-1zM745 151h1v12h-1zM746 154h1v3h-1zM746 163h1v19h-1zM747 154h1v3h-1zM747 168h1v3h-1zM747 175h1v20h-1zM748 139h1v36h-1zM748 192h1v3h-1zM749 120h1v26h-1zM749 192h1v3h-1zM750 120h1v3h-1zM750 146h1v25h-1zM751 120h1v3h-1zM751 163h1v4h-1zM751 168h1v3h-1zM752 163h1v4h-1zM752 168h1v3h-1zM753 163h1v9h-1zM754 166h1v3h-1zM754 172h1v6h-1zM755 166h1v3h-1zM755 175h1v12h-1zM756 175h1v6h-1zM756 184h1v11h-1zM757 166h1v18h-1zM757 192h1v3h-1zM758 156h1v10h-1zM758 192h1v3h-1zM759 156h1v3h-1zM759 161h1v17h-1zM760 156h1v3h-1zM760 163h1v3h-1zM760 178h1v15h-1zM761 163h1v3h-1zM761 173h1v12h-1zM761 190h1v3h-1zM762 166h1v7h-1zM762 190h1v3h-1zM763 161h1v10h-1zM764 151h1v11h-1zM764 166h1v5h-1zM765 151h1v3h-1zM765 162h1v18h-1zM766 151h1v3h-1zM766 170h1v20h-1zM767 151h1v19h-1zM767 187h1v3h-1zM768 151h1v3h-1zM768 161h1v10h-1zM768 187h1v3h-1zM769 151h1v3h-1zM769 159h1v6h-1zM769 168h1v3h-1zM770 159h1v3h-1zM770 165h1v10h-1zM771 159h1v3h-1zM771 175h1v12h-1zM772 174h1v21h-1zM773 154h1v20h-1zM773 178h1v3h-1zM773 192h1v3h-1zM774 154h1v3h-1zM774 162h1v13h-1zM774 192h1v3h-1zM775 154h1v3h-1zM775 175h1v10h-1zM776 170h1v20h-1zM777 151h1v19h-1zM777 180h1v3h-1zM777 187h1v3h-1zM778 151h1v3h-1zM778 155h1v4h-1zM778 187h1v3h-1zM779 151h1v3h-1zM779 159h1v3h-1zM780 158h1v4h-1zM781 154h1v15h-1zM782 154h1v3h-1zM782 159h1v3h-1zM782 169h1v14h-1zM783 154h1v3h-1zM783 167h1v10h-1zM783 180h1v3h-1zM784 161h1v15h-1zM784 180h1v3h-1zM785 161h1v29h-1zM786 139h1v25h-1zM786 187h1v3h-1zM787 139h1v3h-1zM787 150h1v20h-1zM787 187h1v3h-1zM788 139h1v3h-1zM788 170h1v11h-1zM789 173h1v8h-1zM790 149h1v24h-1zM790 178h1v3h-1zM791 130h1v19h-1zM791 166h1v3h-1zM791 178h1v3h-1zM792 130h1v3h-1zM792 138h1v13h-1zM792 166h1v3h-1zM793 130h1v3h-1zM793 143h1v16h-1zM794 127h1v36h-1zM795 127h1v3h-1zM795 156h1v3h-1zM795 163h1v35h-1zM796 127h1v3h-1zM796 185h1v8h-1zM796 195h1v3h-1zM797 178h1v7h-1zM797 195h1v3h-1zM798 173h1v5h-1zM798 180h1v3h-1zM799 171h1v12h-1zM800 151h1v20h-1zM800 173h1v3h-1zM800 180h1v3h-1zM801 139h1v12h-1zM801 180h1v3h-1zM802 139h1v3h-1zM802 148h1v9h-1zM803 139h1v3h-1zM803 151h1v15h-1zM804 151h1v6h-1zM804 166h1v17h-1zM805 151h1v3h-1zM805 178h1v3h-1zM805 183h1v6h-1zM806 173h1v20h-1zM807 135h1v38h-1zM807 190h1v3h-1zM808 113h1v22h-1zM808 154h1v3h-1zM808 190h1v3h-1zM809 113h1v3h-1zM809 121h1v13h-1zM809 154h1v3h-1zM810 113h1v3h-1zM810 134h1v23h-1zM811 139h1v3h-1zM811 157h1v17h-1zM812 139h1v3h-1zM812 161h1v6h-1zM812 171h1v3h-1zM813 161h1v3h-1zM813 171h1v3h-1zM814 161h1v5h-1zM815 161h1v7h-1zM816 161h1v5h-1zM816 168h1v11h-1zM817 161h1v3h-1zM817 171h1v3h-1zM817 179h1v7h-1zM818 171h1v3h-1zM818 182h1v4h-1zM819 165h1v21h-1zM820 147h1v21h-1zM820 180h1v3h-1zM821 147h1v3h-1zM821 168h1v20h-1zM822 147h1v3h-1zM822 165h1v14h-1zM822 185h1v3h-1zM823 147h1v18h-1zM823 185h1v3h-1zM824 135h1v12h-1zM824 156h1v3h-1zM825 135h1v3h-1zM825 143h1v12h-1zM825 156h1v3h-1zM826 135h1v3h-1zM826 147h1v3h-1zM826 155h1v12h-1zM827 147h1v3h-1zM827 167h1v7h-1zM828 161h1v8h-1zM828 171h1v3h-1zM829 161h1v3h-1zM829 166h1v10h-1zM830 156h1v10h-1zM830 173h1v3h-1zM831 156h1v4h-1zM831 173h1v3h-1zM832 156h1v13h-1zM833 159h1v3h-1zM833 163h1v15h-1zM834 149h1v14h-1zM834 175h1v3h-1zM835 149h1v3h-1zM835 153h1v5h-1zM835 175h1v3h-1zM836 149h1v3h-1zM836 158h1v6h-1zM837 159h1v3h-1zM837 164h1v18h-1zM838 159h1v3h-1zM838 166h1v3h-1zM838 182h1v16h-1zM839 166h1v3h-1zM839 178h1v12h-1zM839 195h1v3h-1zM840 171h1v7h-1zM840 195h1v3h-1zM841 171h1v3h-1zM842 171h1v11h-1zM843 171h1v5h-1zM843 182h1v8h-1zM844 173h1v3h-1zM844 179h1v6h-1zM844 187h1v3h-1zM845 172h1v7h-1zM845 187h1v3h-1zM846 166h1v6h-1zM846 175h1v3h-1zM847 166h1v5h-1zM847 175h1v3h-1zM848 166h1v9h-1zM849 157h1v21h-1zM850 137h1v26h-1zM850 175h1v3h-1zM851 137h1v3h-1zM851 163h1v25h-1zM852 137h1v3h-1zM852 177h1v6h-1zM852 185h1v3h-1zM853 169h1v8h-1zM853 185h1v3h-1zM854 163h1v18h-1zM855 161h1v37h-1zM856 125h1v36h-1zM856 163h1v3h-1zM856 195h1v3h-1zM857 125h1v3h-1zM857 136h1v19h-1zM857 195h1v3h-1zM858 125h1v3h-1zM858 155h1v12h-1zM859 156h1v15h-1zM860 142h1v14h-1zM860 163h1v3h-1zM860 168h1v3h-1zM861 142h1v3h-1zM861 153h1v19h-1zM862 142h1v3h-1zM862 169h1v14h-1zM863 149h1v20h-1zM863 180h1v3h-1zM864 139h1v20h-1zM864 180h1v3h-1zM865 139h1v3h-1zM865 156h1v20h-1zM866 139h1v3h-1zM866 171h1v5h-1zM867 162h1v9h-1zM867 173h1v3h-1zM868 154h1v17h-1zM869 154h1v3h-1zM869 168h1v15h-1zM870 154h1v3h-1zM870 175h1v4h-1zM870 180h1v3h-1zM871 171h1v5h-1zM871 180h1v3h-1zM872 171h1v3h-1zM872 176h1v5h-1zM873 171h1v3h-1zM873 175h1v8h-1zM874 162h1v13h-1zM874 178h1v5h-1zM875 154h1v8h-1zM875 180h1v3h-1zM876 154h1v3h-1zM876 160h1v10h-1zM877 154h1v3h-1zM877 159h1v17h-1zM878 142h1v17h-1zM878 163h1v3h-1zM878 173h1v3h-1zM879 142h1v3h-1zM879 148h1v8h-1zM879 173h1v3h-1zM880 142h1v3h-1zM880 156h1v12h-1zM881 159h1v3h-1zM881 168h1v8h-1zM882 159h1v3h-1zM882 173h1v3h-1zM883 173h1v5h-1zM884 173h1v8h-1zM885 163h1v11h-1zM885 178h1v3h-1zM886 156h1v7h-1zM886 168h1v3h-1zM886 178h1v3h-1zM887 156h1v3h-1zM887 168h1v3h-1zM888 156h1v4h-1zM889 156h1v3h-1zM889 160h1v9h-1zM890 156h1v3h-1zM890 161h1v3h-1zM890 169h1v13h-1zM891 161h1v3h-1zM891 173h1v17h-1zM892 142h1v34h-1zM892 187h1v3h-1zM893 125h1v23h-1zM893 187h1v3h-1zM894 125h1v3h-1zM894 148h1v23h-1zM895 125h1v3h-1zM895 149h1v12h-1zM895 168h1v3h-1zM896 149h1v3h-1zM896 161h1v20h-1zM897 149h1v3h-1zM897 180h1v13h-1zM898 156h1v24h-1zM898 190h1v3h-1zM899 142h1v14h-1zM899 168h1v3h-1zM899 190h1v3h-1zM900 142h1v5h-1zM900 168h1v3h-1zM901 142h1v3h-1zM901 147h1v26h-1zM902 147h1v3h-1zM902 173h1v25h-1zM903 147h1v3h-1zM903 178h1v11h-1zM903 195h1v3h-1zM904 178h1v3h-1zM904 186h1v14h-1zM905 161h1v25h-1zM905 197h1v3h-1zM906 147h1v21h-1zM906 197h1v3h-1zM907 147h1v3h-1zM907 168h1v20h-1zM908 147h1v21h-1zM908 185h1v3h-1zM909 149h1v3h-1zM909 160h1v18h-1zM909 185h1v3h-1zM910 149h1v3h-1zM910 175h1v13h-1zM911 163h1v12h-1zM911 185h1v3h-1zM912 163h1v3h-1zM912 170h1v6h-1zM912 185h1v3h-1zM913 163h1v8h-1zM913 173h1v3h-1zM914 159h1v5h-1zM914 173h1v3h-1zM915 159h1v18h-1zM916 159h1v3h-1zM916 165h1v30h-1zM917 135h1v30h-1zM917 192h1v3h-1zM918 135h1v3h-1zM918 143h1v12h-1zM918 192h1v3h-1zM919 135h1v3h-1zM919 149h1v13h-1zM920 137h1v13h-1zM920 159h1v3h-1zM921 137h1v3h-1zM921 150h1v12h-1zM922 137h1v3h-1zM922 159h1v5h-1zM923 159h1v3h-1zM923 163h1v4h-1zM924 163h1v3h-1zM924 167h1v4h-1zM925 163h1v8h-1zM926 163h1v3h-1zM926 168h1v6h-1zM927 163h1v3h-1zM927 169h1v9h-1zM928 161h1v21h-1zM929 161h1v3h-1zM929 175h1v27h-1zM930 154h1v24h-1zM930 199h1v3h-1zM931 150h1v7h-1zM931 199h1v3h-1zM932 147h1v15h-1zM933 147h1v3h-1zM933 162h1v14h-1zM934 147h1v3h-1zM934 166h1v5h-1zM934 173h1v3h-1zM935 166h1v3h-1zM935 170h1v6h-1zM936 166h1v3h-1zM936 174h1v16h-1zM937 171h1v34h-1zM938 137h1v34h-1zM938 175h1v3h-1zM938 202h1v3h-1zM939 137h1v3h-1zM939 145h1v13h-1zM939 202h1v3h-1zM940 137h1v3h-1zM940 158h1v24h-1zM941 163h1v3h-1zM941 182h1v18h-1zM942 163h1v20h-1zM942 197h1v3h-1zM943 166h1v3h-1zM943 172h1v11h-1zM943 197h1v3h-1zM944 154h1v18h-1zM944 180h1v3h-1zM945 144h1v11h-1zM945 180h1v3h-1zM946 144h1v3h-1zM946 150h1v16h-1zM947 135h1v15h-1zM947 163h1v3h-1zM948 135h1v3h-1zM948 148h1v22h-1zM949 135h1v3h-1zM949 161h1v22h-1zM950 139h1v22h-1zM950 180h1v3h-1zM951 139h1v3h-1zM951 154h1v15h-1zM951 180h1v3h-1zM952 139h1v3h-1zM952 144h1v12h-1zM952 166h1v3h-1zM953 144h1v3h-1zM953 150h1v10h-1zM953 166h1v3h-1zM954 144h1v3h-1zM954 160h1v12h-1zM955 153h1v28h-1zM956 125h1v28h-1zM956 163h1v3h-1zM956 178h1v3h-1zM957 125h1v3h-1zM957 136h1v18h-1zM957 178h1v3h-1zM958 125h1v3h-1zM958 154h1v10h-1zM959 147h1v13h-1zM959 161h1v3h-1zM960 135h1v12h-1zM960 156h1v3h-1zM960 161h1v3h-1zM961 135h1v3h-1zM961 144h1v16h-1zM962 135h1v3h-1zM962 160h1v9h-1zM963 156h1v8h-1zM963 166h1v3h-1zM964 151h1v20h-1zM965 132h1v19h-1zM965 156h1v3h-1zM965 168h1v3h-1zM966 132h1v4h-1zM966 168h1v3h-1zM967 132h1v33h-1zM968 135h1v3h-1zM968 165h1v30h-1zM969 135h1v3h-1zM969 179h1v8h-1zM969 192h1v3h-1zM970 175h1v4h-1zM970 180h1v3h-1zM970 192h1v3h-1zM971 171h1v4h-1zM971 180h1v3h-1zM972 154h1v20h-1zM973 135h1v19h-1zM973 171h1v3h-1zM974 135h1v3h-1zM974 143h1v12h-1zM974 171h1v3h-1zM975 135h1v3h-1zM975 155h1v26h-1zM976 159h1v3h-1zM976 181h1v21h-1zM977 159h1v3h-1zM977 171h1v25h-1zM977 199h1v3h-1zM978 149h1v22h-1zM978 190h1v3h-1zM978 199h1v3h-1zM979 149h1v3h-1zM979 163h1v25h-1zM979 190h1v3h-1zM980 149h1v3h-1zM980 188h1v14h-1zM981 173h1v17h-1zM981 199h1v3h-1zM982 166h1v7h-1zM982 178h1v3h-1zM982 199h1v3h-1zM983 166h1v3h-1zM983 172h1v10h-1zM984 166h1v3h-1zM984 178h1v10h-1zM985 168h1v13h-1zM985 185h1v3h-1zM986 168h1v3h-1zM986 181h1v12h-1zM987 168h1v16h-1zM987 190h1v3h-1zM988 153h1v15h-1zM988 190h1v3h-1zM989 144h1v20h-1zM990 144h1v3h-1zM990 159h1v3h-1zM990 164h1v26h-1zM991 144h1v3h-1zM991 180h1v3h-1zM991 189h1v11h-1zM992 171h1v18h-1zM992 197h1v3h-1zM993 160h1v11h-1zM993 197h1v3h-1zM994 156h1v8h-1zM995 156h1v3h-1zM995 161h1v5h-1zM996 156h1v10h-1zM997 156h1v21h-1zM998 156h1v3h-1zM998 177h1v21h-1zM999 156h1v3h-1zM999 186h1v8h-1zM999 195h1v3h-1zM1000 175h1v11h-1zM1000 190h1v3h-1zM1000 195h1v3h-1zM1001 166h1v9h-1zM1001 190h1v3h-1zM1002 161h1v5h-1zM1002 168h1v3h-1zM1003 161h1v6h-1zM1003 168h1v3h-1zM1004 161h1v5h-1zM1004 167h1v4h-1zM1005 163h1v3h-1zM1005 168h1v3h-1zM1006 168h1v10h-1zM1007 163h1v25h-1zM1008 139h1v24h-1zM1008 168h1v3h-1zM1008 185h1v3h-1zM1009 139h1v3h-1zM1009 146h1v11h-1zM1009 185h1v3h-1zM1010 139h1v3h-1zM1010 157h1v9h-1zM1011 161h1v3h-1zM1011 166h1v5h-1zM1012 161h1v3h-1zM1012 168h1v3h-1zM1013 168h1v3h-1z"/>
<text class="t" x="0" y="0" text-anchor="middle" transform="translate(529.5 23) scale(1 1.12)">Umgebungs-Radioaktivität</text>
<text class="n" x="-3.12" y="0" transform="translate(42 321.20) scale(0.8 1.0)">0</text>
<text class="n" x="-9.38 -3.12" y="0" transform="translate(42 273.20) scale(0.8 1.0)">20</text>
<text class="n" x="-9.38 -3.12" y="0" transform="translate(42 225.20) scale(0.8 1.0)">40</text>
<text class="n" x="-9.38 -3.12" y="0" transform="translate(42 177.20) scale(0.8 1.0)">60</text>
<text class="n" x="-9.38 -3.12" y="0" transform="translate(42 129.20) scale(0.8 1.0)">80</text>
<text class="n" x="-15.62 -9.38 -3.12" y="0" transform="translate(42 81.20) scale(0.8 1.0)">100</text>
<text class="n" x="-15.62 -9.38 -3.12" y="0" transform="translate(42 33.20) scale(0.8 1.0)">120</text>
<text class="n" x="-59.38 -53.12 -46.88 -40.62 -34.38 -28.12 -21.88 -15.62 -9.38 -3.12" y="0" transform="translate(50.20 324) rotate(-90) scale(0.8 1.0)">01.12.2007</text>
<text class="n" x="-59.38 -53.12 -46.88 -40.62 -34.38 -28.12 -21.88 -15.62 -9.38 -3.12" y="0" transform="translate(81.20 324) rotate(-90) scale(0.8 1.0)">02.12.2007</text>
<text class="n" x="-59.38 -53.12 -46.88 -40.62 -34.38 -28.12 -21.88 -15.62 -9.38 -3.12" y="0" transform="translate(113.20 324) rotate(-90) scale(0.8 1.0)">03.12.2007</text>
<text class="n" x="-59.38 -53.12 -46.88 -40.62 -34.38 -28.12 -21.88 -15.62 -9.38 -3.12" y="0" transform="translate(144.20 324) rotate(-90) scale(0.8 1.0)">04.12.2007</text>
<text class="n" x="-59.38 -53.12 -46.88 -40.62 -34.38 -28.12 -21.88 -15.62 -9.38 -3.12" y="0" transform="translate(175.20 324) rotate(-90) scale(0.8 1.0)">05.12.2007</text>
<text class="n" x="-59.38 -53.12 -46.88 -40.62 -34.38 -28.12 -21.88 -15.62 -9.38 -3.12" y="0" transform="translate(206.20 324) rotate(-90) scale(0.8 1.0)">06.12.2007</text>
<text class="n" x="-59.38 -53.12 -46.88 -40.62 -34.38 -28.12 -21.88 -15.62 -9.38 -3.12" y="0" transform="translate(237.20 324) rotate(-90) scale(0.8 1.0)">07.12.2007</text>
<text class="n" x="-59.38 -53.12 -46.88 -40.62 -34.38 -28.12 -21.88 -15.62 -9.38 -3.12" y="0" transform="translate(268.20 324) rotate(-90) scale(0.8 1.0)">08.12.2007</text>
<text class="n" x="-59.38 -53.12 -46.88 -40.62 -34.38 -28.12 -21.88 -15.62 -9.38 -3.12" y="0" transform="translate(300.20 324) rotate(-90) scale(0.8 1.0)">09.12.2007</text>
<text class="n" x="-59.38 -53.12 -46.88 -40.62 -34.38 -28.12 -21.88 -15.62 -9.38 -3.12" y="0" transform="translate(331.20 324) rotate(-90) scale(0.8 1.0)">10.12.2007</text>
<text class="n" x="-59.38 -53.12 -46.88 -40.62 -34.38 -28.12 -21.88 -15.62 -9.38 -3.12" y="0" transform="translate(362.20 324) rotate(-90) scale(0.8 1.0)">11.12.2007</text>
<text class="n" x="-59.38 -53.12 -46.88 -40.62 -34.38 -28.12 -21.88 -15.62 -9.38 -3.12" y="0" transform="translate(393.20 324) rotate(-90) scale(0.8 1.0)">12.12.2007</text>
<text class="n" x="-59.38 -53.12 -46.88 -40.62 -34.38 -28.12 -21.88 -15.62 -9.38 -3.12" y="0" transform="translate(424.20 324) rotate(-90) scale(0.8 1.0)">13.12.2007</text>
<text class="n" x="-59.38 -53.12 -46.88 -40.62 -34.38 -28.12 -21.88 -15.62 -9.38 -3.12" y="0" transform="translate(455.20 324) rotate(-90) scale(0.8 1.0)">14.12.2007</text>
<text class="n" x="-59.38 -53.12 -46.88 -40.62 -34.38 -28.12 -21.88 -15.62 -9.38 -3.12" y="0" transform="translate(486.20 324) rotate(-90) scale(0.8 1.0)">15.12.2007</text>
<text class="n" x="-59.38 -53.12 -46.88 -40.62 -34.38 -28.12 -21.88 -15.62 -9.38 -3.12" y="0" transform="translate(518.20 324) rotate(-90) scale(0.8 1.0)">16.12.2007</text>
<text class="n" x="-59.38 -53.12 -46.88 -40.62 -34.38 -28.12 -21.88 -15.62 -9.38 -3.12" y="0" transform="translate(549.20 324) rotate(-90) scale(0.8 1.0)">17.12.2007</text>
<text class="n" x="-59.38 -53.12 -46.88 -40.62 -34.38 -28.12 -21.88 -15.62 -9.38 -3.12" y="0" transform="translate(580.20 324) rotate(-90) scale(0.8 1.0)">18.12.2007</text>
<text class="n" x="-59.38 -53.12 -46.88 -40.62 -34.38 -28.12 -21.88 -15.62 -9.38 -3.12" y="0" transform="translate(611.20 324) rotate(-90) scale(0.8 1.0)">19.12.2007</text>
<text class="n" x="-59.38 -53.12 -46.88 -40.62 -34.38 -28.12 -21.88 -15.62 -9.38 -3.12" y="0" transform="translate(642.20 324) rotate(-90) scale(0.8 1.0)">20.12.2007</text>
<text class="n" x="-59.38 -53.12 -46.88 -40.62 -34.38 -28.12 -21.88 -15.62 -9.38 -3.12" y="0" transform="translate(673.20 324) rotate(-90) scale(0.8 1.0)">21.12.2007</text>
<text class="n" x="-59.38 -53.12 -46.88 -40.62 -34.38 -28.12 -21.88 -15.62 -9.38 -3.12" y="0" transform="translate(705.20 324) rotate(-90) scale(0.8 1.0)">22.12.2007</text>
<text class="n" x="-59.38 -53.12 -46.88 -40.62 -34.38 -28.12 -21.88 -15.62 -9.38 -3.12" y="0" transform="translate(736.20 324) rotate(-90) scale(0.8 1.0)">23.12.2007</text>
<text class="n" x="-59.38 -53.12 -46.88 -40.62 -34.38 -28.12 -21.88 -15.62 -9.38 -3.12" y="0" transform="translate(767.20 324) rotate(-90) scale(0.8 1.0)">24.12.2007</text>
<text class="n" x="-59.38 -53.12 -46.88 -40.62 -34.38 -28.12 -21.88 -15.62 -9.38 -3.12" y="0" transform="translate(798.20 324) rotate(-90) scale(0.8 1.0)">25.12.2007</text>
<text class="n" x="-59.38 -53.12 -46.88 -40.62 -34.38 -28.12 -21.88 -15.62 -9.38 -3.12" y="0" transform="translate(829.20 324) rotate(-90) scale(0.8 1.0)">26.12.2007</text>
<text class="n" x="-59.38 -53.12 -46.88 -40.62 -34.38 -28.12 -21.88 -15.62 -9.38 -3.12" y="0" transform="translate(860.20 324) rotate(-90) scale(0.8 1.0)">27.12.2007</text>
<text class="n" x="-59.38 -53.12 -46.88 -40.62 -34.38 -28.12 -21.88 -15.62 -9.38 -3.12" y="0" transform="translate(892.20 324) rotate(-90) scale(0.8 1.0)">28.12.2007</text>
<text class="n" x="-59.38 -53.12 -46.88 -40.62 -34.38 -28.12 -21.88 -15.62 -9.38 -3.12" y="0" transform="translate(923.20 324) rotate(-90) scale(0.8 1.0)">29.12.2007</text>
<text class="n" x="-59.38 -53.12 -46.88 -40.62 -34.38 -28.12 -21.88 -15.62 -9.38 -3.12" y="0" transform="translate(954.20 324) rotate(-90) scale(0.8 1.0)">30.12.2007</text>
<text class="n" x="-59.38 -53.12 -46.88 -40.62 -34.38 -28.12 -21.88 -15.62 -9.38 -3.12" y="0" transform="translate(985.20 324) rotate(-90) scale(0.8 1.0)">31.12.2007</text>
<text class="n" x="-59.38 -53.12 -46.88 -40.62 -34.38 -28.12 -21.88 -15.62 -9.38 -3.12" y="0" transform="translate(1015.20 324) rotate(-90) scale(0.8 1.0)">31.12.2007</text>
<text class="s" text-anchor="middle" transform="translate(21 175.5) rotate(-90) scale(1 1.08)" x="0" y="0">Ereignisse pro Stunde</text>
<text class="s" x="0" y="0" text-anchor="middle" transform="translate(765 388) scale(1 1.06)">Tage</text>
</svg>
</body></html>
